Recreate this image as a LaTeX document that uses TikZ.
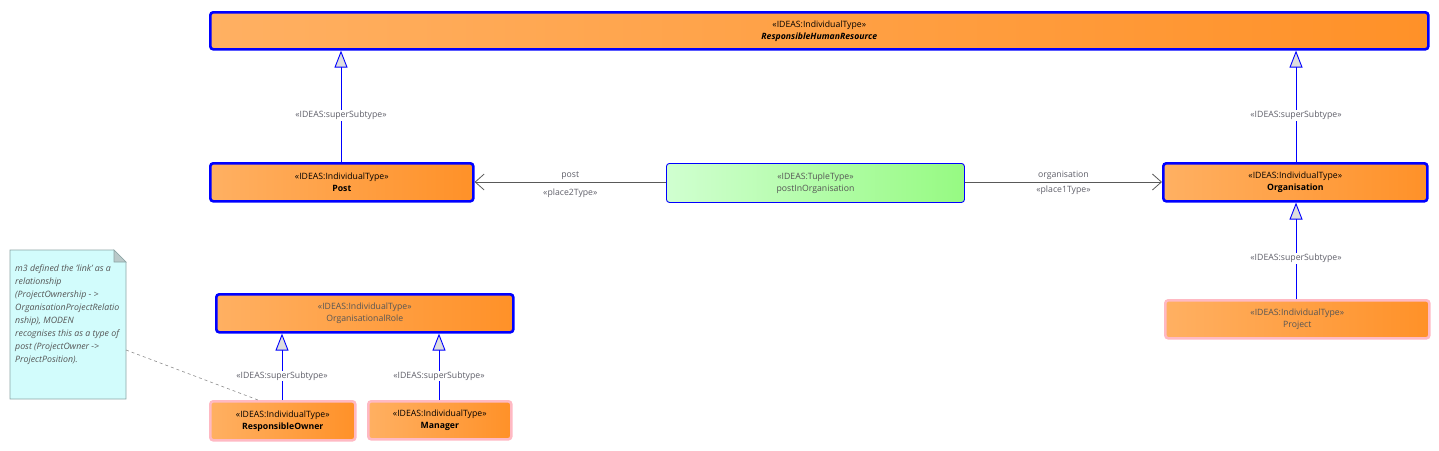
\documentclass[tikz,border=0pt]{standalone}
\usepackage{fontspec}
\setmainfont{Open Sans}
\usetikzlibrary{arrows.meta,shapes.misc}
\definecolor{orL}{RGB}{255,176,98}
\definecolor{orR}{RGB}{255,145,40}
\definecolor{grL}{RGB}{208,255,208}
\definecolor{grR}{RGB}{150,250,130}
\definecolor{pinkb}{RGB}{255,185,195}
\definecolor{notefill}{RGB}{210,252,252}
\definecolor{noteline}{RGB}{140,165,165}
\definecolor{txtgrey}{RGB}{85,85,85}
\definecolor{lblgrey}{RGB}{95,95,105}
\tikzset{
  cls/.style={rectangle, rounded corners=3pt, left color=orL, right color=orR,
    align=center, font=\fontsize{8.7}{13}\selectfont, inner sep=0pt, anchor=north west},
  bluecls/.style={cls, draw=blue, line width=2.6pt},
  pinkcls/.style={cls, draw=pinkb, line width=2.6pt},
  tuplecls/.style={cls, left color=grL, right color=grR, draw=blue, line width=0.9pt},
  gen/.style={draw=blue, line width=0.9pt, -{Triangle[length=17pt,width=13pt,fill=black!13]}},
  assoc/.style={draw=black!65, line width=0.8pt, -{Straight Barb[length=9pt,width=16pt,line width=0.8pt]}},
  lbl/.style={font=\fontsize{8.7}{10}\selectfont, text=lblgrey, fill=white, inner sep=1pt},
  lblnf/.style={font=\fontsize{8.7}{10}\selectfont, text=lblgrey, inner sep=1pt},
}
\begin{document}
\begin{tikzpicture}[x=1pt,y=-1pt]
\useasboundingbox (0,0) rectangle (1439,450);
% classes
\node[bluecls, minimum width=1218pt, minimum height=37pt] (rhr) at (209,11)
  {«IDEAS:IndividualType»\\[-1pt]\textbf{\textit{ResponsibleHumanResource}}};
\node[bluecls, minimum width=263pt, minimum height=38pt] (post) at (209,162)
  {«IDEAS:IndividualType»\\[-1pt]\textbf{Post}};
\node[tuplecls, minimum width=298pt, minimum height=39pt] (pio) at (666,163)
  {\textcolor{txtgrey}{«IDEAS:TupleType»}\\[-1pt]\textcolor{txtgrey}{postInOrganisation}};
\node[bluecls, minimum width=264pt, minimum height=38pt] (org) at (1162,162)
  {«IDEAS:IndividualType»\\[-1pt]\textbf{Organisation}};
\node[pinkcls, minimum width=264pt, minimum height=38pt] (proj) at (1164,299)
  {\textcolor{txtgrey}{«IDEAS:IndividualType»}\\[-1pt]\textcolor{txtgrey}{Project}};
\node[bluecls, minimum width=297pt, minimum height=38pt] (orole) at (215,293)
  {\textcolor{txtgrey}{«IDEAS:IndividualType»}\\[-1pt]\textcolor{txtgrey}{OrganisationalRole}};
\node[pinkcls, minimum width=145pt, minimum height=39pt] (rown) at (209,400)
  {«IDEAS:IndividualType»\\[-1pt]\textbf{ResponsibleOwner}};
\node[pinkcls, minimum width=143pt, minimum height=38pt] (mgr) at (367,400)
  {«IDEAS:IndividualType»\\[-1pt]\textbf{Manager}};
% note
\draw[draw=noteline, fill=notefill, line width=0.7pt]
  (10,250) -- (114,250) -- (126,262) -- (126,399) -- (10,399) -- cycle;
\draw[draw=noteline, fill=noteline!60, line width=0.7pt] (114,250) -- (114,262) -- (126,262) -- cycle;
\node[anchor=north west, align=left, inner sep=0pt, text=txtgrey,
  font=\fontsize{8.8}{13}\selectfont\itshape] (note) at (15,265)
  {m3 defined the 'link' as a\\relationship\\(ProjectOwnership - >\\OrganisationProjectRelatio\\nship), MODEN\\recognises this as a type of\\post (ProjectOwner ->\\ProjectPosition).};
\coordinate (noteanc) at (126,350);
\coordinate (rownanc) at (258,400);
\draw[black!45, dashed, line width=0.6pt] (noteanc) -- (rownanc);
% generalizations
\draw[gen] (post.north -| 341,0) -- node[lbl, pos=0.42] {«IDEAS:superSubtype»} (rhr.south -| 341,0);
\draw[gen] (org.north -| 1296,0) -- node[lbl, pos=0.42] {«IDEAS:superSubtype»} (rhr.south -| 1296,0);
\draw[gen] (proj.north -| 1296,0) -- node[lbl, pos=0.42] {«IDEAS:superSubtype»} (org.south -| 1296,0);
\draw[gen] (rown.north -| 282,0) -- node[lbl, pos=0.36] {«IDEAS:superSubtype»} (orole.south -| 282,0);
\draw[gen] (mgr.north -| 439,0) -- node[lbl, pos=0.36] {«IDEAS:superSubtype»} (orole.south -| 439,0);
% associations
\draw[assoc] (pio.west |- 0,182) -- node[lblnf, pos=0.5, above=1pt] {post} node[lblnf, pos=0.5, below=5pt] {«place2Type»} (post.east |- 0,182);
\draw[assoc] (pio.east |- 0,182) -- node[lblnf, pos=0.5, above=1pt] {organisation} node[lblnf, pos=0.5, below=2pt] {«place1Type»} (org.west |- 0,182);
\end{tikzpicture}
\end{document}
